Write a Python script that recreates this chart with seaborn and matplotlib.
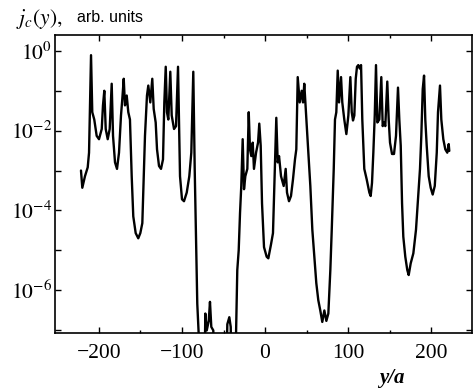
import numpy as np
import pandas as pd
import matplotlib
matplotlib.use("Agg")
import matplotlib.pyplot as plt
import matplotlib.ticker as mticker
import seaborn as sns

# position y/a
y_pos = [-221.7, -220.1, -216.9, -213.6, -212.0, -209.6, -208.1, -205.7, -202.8, -200.0,
         -196.7, -195.2, -193.6, -191.9, -189.5, -187.1, -184.7, -183.1, -180.7, -178.3,
         -175.9, -173.5, -171.9, -170.2, -168.7, -166.6, -164.7, -162.7, -160.6, -158.7,
         -155.8, -152.7, -150.2, -147.8, -146.1, -144.6, -142.2, -140.6, -138.2, -135.8,
         -134.1, -131.7, -130.1, -127.7, -125.3, -122.9, -121.3, -119.6, -118.1, -116.5,
         -114.1, -112.4, -109.6, -107.2, -104.8, -103.3, -102.4, -100.0, -97.6, -94.3,
         -91.2, -88.8, -86.4, -84.7, -83.1, -81.6, -79.9, -79.0, -73.5, -71.9,
         -70.2, -67.8, -66.3, -64.7, -62.3, -59.9, -47.5, -45.4, -43.0, -41.3,
         -39.8, -34.9, -33.4, -31.7, -30.1, -28.6, -26.9, -25.3, -23.7, -21.3,
         -19.6, -18.1, -16.5, -14.8, -13.3, -10.8, -8.4, -6.9, -5.2, -3.6,
         -1.2, 2.0, 4.0, 7.2, 9.6, 11.2, 13.6, 15.3, 16.9, 19.3,
         22.5, 24.9, 26.5, 28.9, 31.3, 33.7, 36.1, 37.7, 39.4, 41.8,
         44.2, 45.8, 47.3, 49.8, 52.2, 54.6, 57.0, 59.4, 61.8, 64.2,
         66.6, 69.0, 71.5, 73.9, 76.3, 78.7, 80.4, 82.8, 84.3, 85.9,
         87.6, 89.2, 91.6, 93.1, 95.5, 98.0, 100.4, 102.8, 104.5, 106.0,
         107.6, 109.3, 110.8, 112.4, 114.1, 115.7, 117.2, 119.6, 122.5, 125.7,
         127.3, 128.9, 130.5, 132.2, 133.7, 135.3, 137.7, 140.1, 141.8, 143.4,
         144.9, 147.3, 149.0, 150.6, 153.0, 155.4, 157.8, 160.2, 161.8, 163.5,
         165.1, 166.6, 169.0, 171.4, 173.1, 175.5, 178.7, 181.9, 184.3, 186.7,
         188.3, 190.0, 191.6, 193.1, 194.8, 197.2, 199.6, 202.0, 204.5, 206.9,
         208.4, 210.8, 212.4, 214.8, 217.2, 219.6, 221.3, 222.0]

# critical current density j_c(y), arb. units
j_c = [1.0e-3, 3.7e-4, 7.2e-4, 1.2e-3, 2.8e-3, 0.78, 2.9e-2, 1.9e-2, 7.4e-3, 6.1e-3,
       1.1e-2, 4.3e-2, 0.10, 1.1e-2, 6.1e-3, 1.1e-2, 0.15, 7.4e-3, 1.6e-3, 1.1e-3,
       2.8e-3, 2.4e-2, 6.3e-2, 0.20, 4.3e-2, 7.6e-2, 2.9e-2, 1.9e-2, 7.2e-4, 7.1e-5,
       2.7e-5, 2.0e-5, 2.7e-5, 4.8e-5, 7.2e-4, 7.4e-3, 7.6e-2, 0.135, 5.1e-2, 0.20,
       3.5e-2, 1.6e-2, 3.4e-3, 1.3e-3, 1.1e-3, 1.9e-3, 5.1e-2, 0.40, 2.9e-2, 1.9e-2,
       0.30, 2.4e-2, 1.1e-2, 1.3e-2, 0.40, 7.4e-3, 7.2e-4, 1.9e-4, 1.7e-4, 2.8e-4,
       7.2e-4, 2.8e-3, 0.30, 1.1e-3, 2.2e-5, 4.6e-7, 8.0e-8, 1.0e-9, 1.0e-9, 2.6e-7,
       9.8e-8, 1.7e-7, 5.1e-7, 1.2e-7, 9.8e-8, 1.0e-9, 1.0e-9, 1.4e-7, 2.1e-7, 1.2e-7,
       1.0e-9, 8.0e-8, 3.2e-6, 1.0e-5, 8.6e-5, 4.1e-4, 6.1e-3, 3.4e-4, 7.2e-4, 1.1e-3,
       2.9e-2, 3.4e-3, 2.3e-3, 5.0e-3, 1.1e-3, 2.8e-3, 5.0e-3, 1.5e-2, 4.2e-3, 1.5e-4,
       1.2e-5, 6.9e-6, 6.3e-6, 1.4e-5, 2.7e-5, 4.1e-4, 2.1e-2, 1.6e-3, 2.3e-3, 7.2e-4,
       4.1e-4, 1.1e-3, 2.8e-4, 1.7e-4, 2.3e-4, 6.0e-4, 1.9e-3, 3.4e-3, 0.22, 5.1e-2,
       0.10, 5.1e-2, 0.15, 1.9e-2, 2.8e-3, 4.1e-4, 3.3e-5, 6.9e-6, 1.5e-6, 5.6e-7,
       3.1e-7, 1.6e-7, 3.1e-7, 1.7e-7, 2.6e-7, 3.2e-6, 3.3e-5, 1.1e-3, 1.9e-2, 2.9e-2,
       0.32, 5.1e-2, 0.22, 5.1e-2, 1.9e-2, 8.2e-3, 2.4e-2, 0.22, 2.9e-2, 1.8e-2,
       2.4e-2, 0.20, 0.40, 0.44, 0.36, 0.44, 1.9e-2, 1.1e-3, 6.0e-4, 2.8e-4,
       2.3e-4, 4.9e-4, 2.8e-3, 2.4e-2, 0.44, 1.6e-2, 1.9e-2, 0.22, 1.3e-2, 1.6e-2,
       1.3e-2, 0.17, 1.9e-2, 5.0e-3, 2.6e-3, 2.6e-3, 7.4e-3, 0.12, 1.9e-2, 4.2e-3,
       1.5e-4, 2.2e-5, 6.9e-6, 3.2e-6, 2.4e-6, 4.7e-6, 8.4e-6, 3.3e-5, 1.9e-4, 1.1e-3,
       7.4e-3, 0.11, 0.24, 1.9e-2, 4.2e-3, 7.2e-4, 3.7e-4, 2.5e-4, 4.1e-4, 2.8e-3,
       2.9e-2, 0.135, 1.9e-2, 6.1e-3, 3.4e-3, 2.8e-3, 4.6e-3, 3.1e-3]

x_ticks = [-200, -100, 0, 100, 200]
x_labels = ["\u2212200", "\u2212100", "0", "100", "200"]
x_minor = [-150, -50, 50, 150]

df = pd.DataFrame({"y_a": y_pos, "jc": j_c})

sns.set_style("ticks")
plt.rcParams["mathtext.fontset"] = "stix"
plt.rcParams["font.family"] = ["Liberation Serif", "DejaVu Serif"]

fig = plt.figure(figsize=(4.75, 3.9), dpi=100)
ax = fig.add_axes([55 / 475, 1 - 333.3 / 390, (471.7 - 55) / 475, (333.3 - 35) / 390])

sns.lineplot(data=df, x="y_a", y="jc", ax=ax, color="black", linewidth=1.7,
             estimator=None, sort=False)

ax.set_yscale("log")
ax.set_xlim(-253, 249)
ax.set_ylim(8.3e-8, 2.5)

ax.set_xticks(x_ticks)
ax.set_xticklabels(x_labels)
ax.set_xticks(x_minor, minor=True)

ax.yaxis.set_major_locator(mticker.FixedLocator([10.0 ** k for k in range(-7, 1)]))
ax.yaxis.set_minor_locator(mticker.NullLocator())


def fmt(v, pos):
    k = int(round(np.log10(v)))
    if k % 2 == 0:
        return r"$10^{%d}$" % k if k != 0 else r"$10^{0}$"
    return ""


ax.yaxis.set_major_formatter(mticker.FuncFormatter(fmt))

ax.tick_params(axis="both", which="major", direction="in", length=4, width=1.0,
               top=True, right=True, color="black")
ax.tick_params(axis="both", which="minor", direction="in", length=2.5, width=1.0,
               top=True, right=True, color="black")
ax.tick_params(axis="x", which="major", labelsize=15.5, pad=8)
ax.tick_params(axis="y", which="major", labelsize=15.5, pad=2)
for lab in ax.get_xticklabels() + ax.get_yticklabels():
    lab.set_color("black")

for s in ax.spines.values():
    s.set_linewidth(1.2)
    s.set_color("black")

ax.set_xlabel("")
ax.set_ylabel("")

fig.text(16 / 475, 1 - 24 / 390, r"$j_c(y),$", fontsize=15.5, ha="left", va="baseline",
         color="black")
fig.text(77 / 475, 1 - 22 / 390, "arb. units", fontsize=11.5, ha="left", va="baseline",
         family=["Liberation Sans", "DejaVu Sans"], color="black")
fig.text(392 / 475, 1 - 383 / 390, "y/a", fontsize=15, ha="center", va="baseline",
         style="italic", weight="bold", color="black")

fig.savefig("out.png", dpi=100)
